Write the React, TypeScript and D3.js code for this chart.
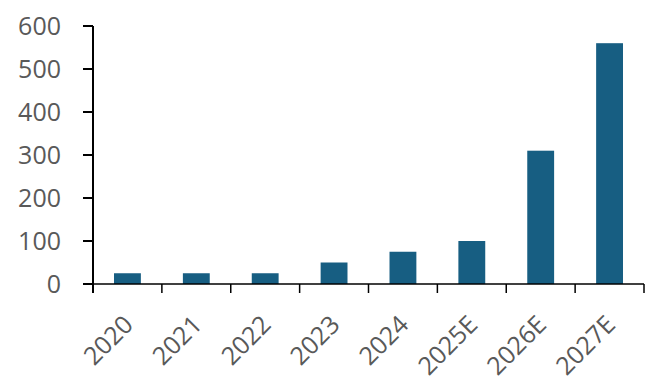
import React from "react";
import * as d3 from "d3";

const categories = ["2020", "2021", "2022", "2023", "2024", "2025E", "2026E", "2027E"];
const values = [25, 25, 25, 50, 75, 100, 310, 560];
const yTicks = [0, 100, 200, 300, 400, 500, 600];

export default function App() {
  const W = 661, H = 389;
  const left = 93, right = 644, top = 26, bottom = 284;
  const x = d3.scaleBand<string>().domain(categories).range([left, right]).paddingInner(0).paddingOuter(0);
  const y = d3.scaleLinear().domain([0, 600]).range([bottom, top]);
  const bw = x.bandwidth() * 0.39;
  const font = "'Open Sans', 'Noto Sans', sans-serif";
  const color = "#595959";
  return (
    <svg width={W} height={H} style={{ position: "absolute", left: 0, top: 0 }}>
      <rect width={W} height={H} fill="#fff" />
      {categories.map((c, i) => (
        <rect key={c} x={x(c)! + x.bandwidth() / 2 - bw / 2} y={y(values[i])} width={bw} height={bottom - y(values[i])} fill="#175E82" />
      ))}
      <line x1={left} x2={left} y1={top} y2={bottom + 9} stroke="#000" strokeWidth={2} />
      <line x1={left} x2={right} y1={bottom} y2={bottom} stroke="#000" strokeWidth={1.5} />
      {yTicks.map((t) => (
        <g key={t}>
          <line x1={left - 10} x2={left} y1={y(t)} y2={y(t)} stroke="#000" strokeWidth={2} />
          <text x={61} y={y(t)} dy="0.36em" textAnchor="end" fontSize={25} fontFamily={font} fill={color}>{t}</text>
        </g>
      ))}
      {[...categories.map((c) => x(c)!), right].map((p, i) => (
        <line key={i} x1={p} x2={p} y1={bottom} y2={bottom + 9} stroke="#000" strokeWidth={1.5} />
      ))}
      {categories.map((c) => {
        const cx = x(c)! + x.bandwidth() / 2 + 1;
        const cy = 320;
        return (
          <text key={c} transform={`translate(${cx},${cy}) rotate(-45)`} textAnchor="end" dy="0.35em" fontSize={25} fontFamily={font} fill={color}>{c}</text>
        );
      })}
    </svg>
  );
}
